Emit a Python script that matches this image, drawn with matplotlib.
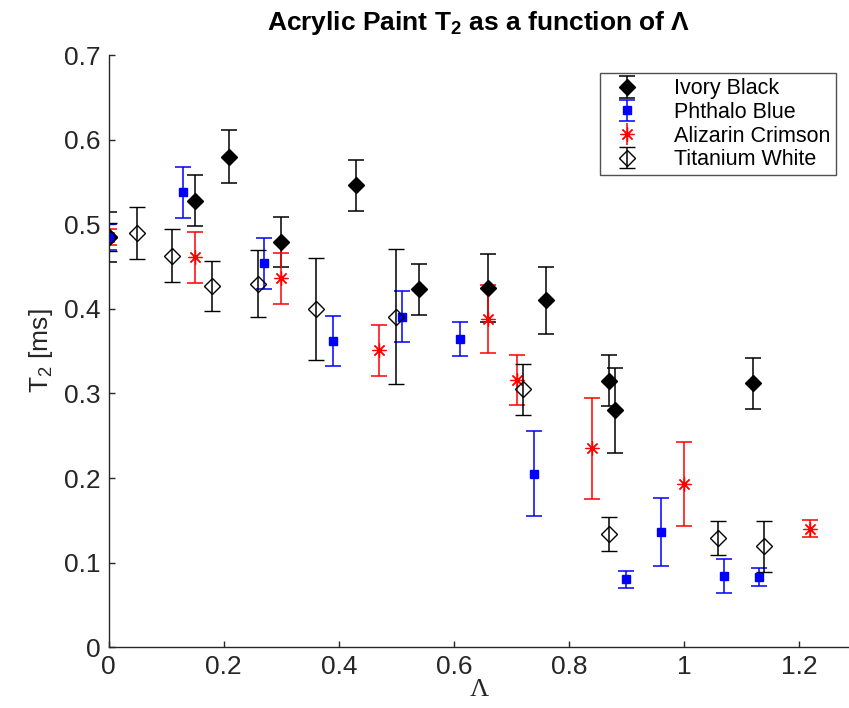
import numpy as np
import matplotlib.pyplot as plt

plt.rcParams['font.family'] = ['Liberation Sans', 'DejaVu Sans']
plt.rcParams['mathtext.fontset'] = 'custom'
plt.rcParams['mathtext.rm'] = 'Liberation Sans'
plt.rcParams['mathtext.it'] = 'Liberation Sans'
plt.rcParams['mathtext.bf'] = 'Liberation Sans:bold'
plt.rcParams['mathtext.default'] = 'regular'

# Ivory Black
lam_black = [0.0, 0.15, 0.21, 0.30, 0.43, 0.54, 0.66, 0.76, 0.87, 0.88, 1.12]
t2_black = [0.485, 0.528, 0.580, 0.479, 0.546, 0.423, 0.425, 0.410, 0.315, 0.280, 0.312]
err_black = [0.030, 0.030, 0.031, 0.030, 0.030, 0.030, 0.040, 0.040, 0.030, 0.050, 0.030]

# Phthalo Blue
lam_blue = [0.0, 0.13, 0.27, 0.39, 0.51, 0.61, 0.74, 0.90, 0.96, 1.07, 1.13]
t2_blue = [0.485, 0.538, 0.454, 0.362, 0.391, 0.364, 0.205, 0.080, 0.136, 0.084, 0.083]
err_blue = [0.015, 0.030, 0.030, 0.030, 0.030, 0.020, 0.050, 0.010, 0.040, 0.020, 0.011]

# Alizarin Crimson
lam_red = [0.0, 0.15, 0.30, 0.47, 0.66, 0.71, 0.84, 1.00, 1.22]
t2_red = [0.485, 0.461, 0.436, 0.351, 0.388, 0.316, 0.235, 0.193, 0.140]
err_red = [0.010, 0.030, 0.030, 0.030, 0.040, 0.030, 0.060, 0.050, 0.010]

# Titanium White
lam_white = [0.0, 0.05, 0.11, 0.18, 0.26, 0.36, 0.50, 0.72, 0.87, 1.06, 1.14]
t2_white = [0.485, 0.490, 0.463, 0.427, 0.430, 0.400, 0.391, 0.305, 0.134, 0.129, 0.119]
err_white = [0.016, 0.031, 0.031, 0.030, 0.040, 0.060, 0.080, 0.030, 0.020, 0.020, 0.030]

fig = plt.figure(figsize=(8.49, 7.08), dpi=100)
ax = fig.add_axes([0.128, 0.086, 0.872, 0.836])

kw = dict(linestyle='none', capsize=6, elinewidth=1.1, capthick=1.1)
ax.errorbar(lam_black, t2_black, yerr=err_black, fmt='D', color='k', ms=8,
            label='Ivory Black', **kw)
ax.errorbar(lam_blue, t2_blue, yerr=err_blue, fmt='s', color='b', ms=6,
            label='Phthalo Blue', **kw)
ax.errorbar(lam_red, t2_red, yerr=err_red, fmt='none', ecolor='r', **kw)
ax.plot(lam_red, t2_red, linestyle='none', marker=(8, 2, 0), color='r', ms=10,
        markeredgewidth=0.9)
# proxy so the legend shows the asterisk together with its error bar
ax.errorbar([], [], yerr=[], marker=(8, 2, 0), color='r', ms=10,
            markeredgewidth=0.9, label='Alizarin Crimson', **kw)
ax.errorbar(lam_white, t2_white, yerr=err_white, fmt='D', color='k', ms=8,
            markerfacecolor='none', markeredgewidth=1.0, label='Titanium White', **kw)

ax.set_xlim(0, 1.287)
ax.set_ylim(0, 0.7)
ax.set_xticks([0, 0.2, 0.4, 0.6, 0.8, 1.0, 1.2])
ax.set_xticklabels(['0', '0.2', '0.4', '0.6', '0.8', '1', '1.2'])
ax.set_yticks(np.arange(0, 0.71, 0.1))
ax.set_yticklabels(['0', '0.1', '0.2', '0.3', '0.4', '0.5', '0.6', '0.7'])
ax.tick_params(direction='in', length=4, width=1, labelsize=19, colors='#262626', pad=6)
ax.spines['top'].set_visible(False)
ax.spines['right'].set_visible(False)
for s in ('left', 'bottom'):
    ax.spines[s].set_color('#262626')
    ax.spines[s].set_linewidth(1.0)

ax.set_xlabel('Λ', fontsize=19, labelpad=0, color='#262626', family='Liberation Serif')
ax.set_ylabel('T$_2$ [ms]', fontsize=19, labelpad=6, color='#262626')
ax.set_title('Acrylic Paint T$_2$ as a function of Λ', fontsize=19,
             fontweight='bold', pad=18)

leg = ax.legend(loc='upper right', bbox_to_anchor=(0.982, 0.97), borderaxespad=0,
                fontsize=15.5, frameon=True, fancybox=False, edgecolor='#262626',
                handletextpad=1.2, borderpad=0.25, labelspacing=0.12,
                handlelength=2.0)
leg.get_frame().set_linewidth(1.0)

fig.savefig('out.png', dpi=100)
